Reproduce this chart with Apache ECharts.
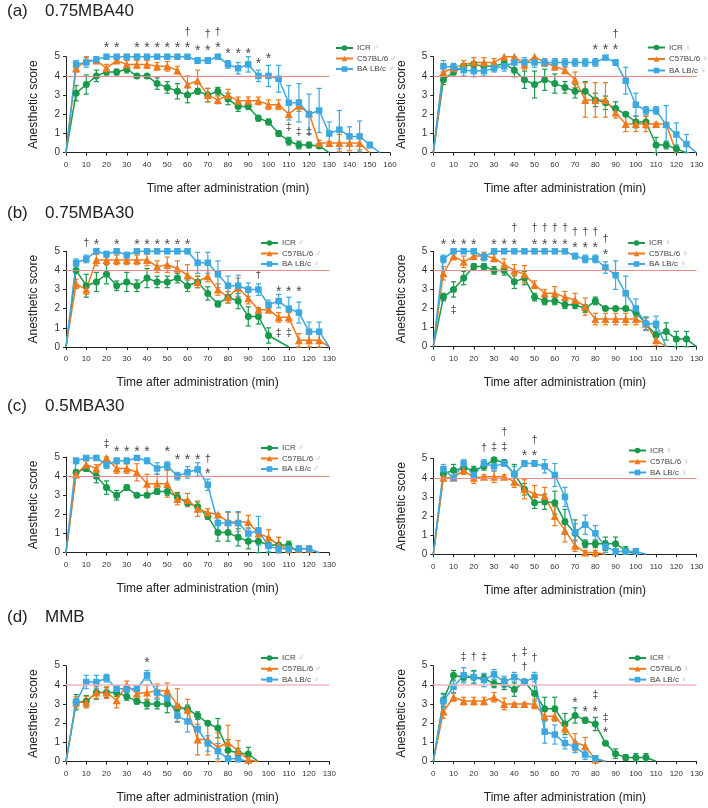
<!DOCTYPE html>
<html><head><meta charset="utf-8">
<script src="https://cdn.jsdelivr.net/npm/echarts@6/dist/echarts.min.js"></script>
<style>html,body{margin:0;padding:0;background:#fff}#c{width:708px;height:808px}</style>
</head><body><div id="c"></div>
<script>
// time step between samples (min); index i -> time i*STEP
const STEP = 5;
const REF_LEVEL = 4;      // red reference line level
const REF_END = 130;      // red reference line end time

// ---------- (a) 0.75MBA40, male ----------
const aL_icr      = [0,3.1,3.55,4.0,4.2,4.2,4.35,4.0,4.0,3.6,3.4,3.2,3.0,3.2,3.0,3.2,2.8,2.4,2.4,1.8,1.6,1.0,0.6,0.4,0.4,0.35,0];
const aL_icr_err  = [0,0.4,0.5,0.3,0.15,0.15,0.2,0.05,0.05,0.3,0.3,0.4,0.4,0.15,0.35,0.2,0.3,0.25,0.15,0.15,0.15,0.15,0.2,0.2,0.15,0.1,0];
const aL_c57      = [0,4.4,4.8,4.8,4.4,4.8,4.6,4.6,4.6,4.5,4.5,4.3,3.55,3.75,3.0,2.75,3.0,2.7,2.7,2.7,2.5,2.5,2.0,2.45,2.05,0.5,0.5,0.5,0.5,0.5,0];
const aL_c57_err  = [0,0.2,0.2,0.15,0.2,0.1,0.2,0.2,0.2,0.2,0.25,0.2,0.45,0.55,0.35,0.2,0.3,0.2,0.2,0.2,0.25,0.25,0.1,0.3,0.1,0.15,0.1,0.45,0.4,0.35,0];
const aL_balb     = [0,4.6,4.7,4.85,5,5,5,5,5,5,5,5,5,4.8,4.8,5,4.6,4.4,4.6,4.0,4.0,3.85,2.6,2.6,2.0,2.2,1.0,1.2,0.85,0.85,0.4,0];
const aL_balb_err = [0,0.2,0.25,0.15,0,0,0,0,0,0,0,0,0,0.15,0.15,0.05,0.2,0.3,0.4,0.3,0.55,0.7,0.9,1.0,1.05,1.15,0.6,1.0,0.5,0.8,0.15,0];
const aL_notes = [[20,5.65,'*'],[25,5.65,'*'],[35,5.65,'*'],[40,5.65,'*'],[45,5.65,'*'],[50,5.65,'*'],[55,5.65,'*'],[60,5.65,'*'],
  [65,5.45,'*'],[70,5.45,'*'],[75,5.65,'*'],[60,6.3,'†'],[70,6.2,'†'],[75,6.3,'†'],[80,5.3,'*'],[85,5.3,'*'],[90,5.3,'*'],
  [95,4.8,'*'],[100,5.05,'*'],[110,1.35,'‡'],[115,1.1,'‡'],[120,1.1,'‡']];

// ---------- (a) 0.75MBA40, female ----------
const aR_icr      = [0,3.8,4.2,4.5,4.6,4.5,4.5,4.65,4.3,3.8,3.55,3.8,3.6,3.4,3.2,3.2,2.75,2.6,2.3,2.0,1.6,1.6,0.4,0.4,0.2,0];
const aR_icr_err  = [0,0.25,0.15,0.15,0.15,0.15,0.15,0.15,0.35,0.45,0.7,0.55,0.5,0.3,0.35,0.5,0.35,0.35,0.35,0.1,0.3,0.3,0.4,0.2,0.2,0];
const aR_c57      = [0,4.2,4.4,4.6,4.7,4.7,4.7,5.0,5.0,4.6,5.0,4.7,4.5,4.3,3.8,2.75,2.75,2.75,2.1,1.5,1.5,1.5,1.5,1.5,0];
const aR_c57_err  = [0,0.3,0.2,0.2,0.25,0.25,0.2,0,0,0.25,0,0.1,0.2,0.15,0.4,0.9,0.9,0.9,0.3,0.4,0.4,0.4,0.05,0.05,0];
const aR_balb     = [0,4.5,4.45,4.3,4.25,4.25,4.4,4.5,4.7,4.7,4.7,4.7,4.7,4.7,4.7,4.7,4.7,4.95,4.7,3.75,2.5,2.2,2.2,1.45,0.95,0.45,0];
const aR_balb_err = [0,0.3,0.2,0.3,0.3,0.25,0.2,0.25,0.3,0.25,0.25,0.2,0.2,0.2,0.2,0.2,0.2,0.05,0.15,0.7,0.6,0.2,0.2,1.0,0.6,0.5,0];
const aR_notes = [[80,5.5,'*'],[85,5.5,'*'],[90,5.5,'*'],[90,6.2,'†']];

// ---------- (b) 0.75MBA30, male ----------
const bL_icr      = [0,4.0,3.2,3.4,3.8,3.2,3.4,3.2,3.6,3.4,3.4,3.6,3.2,3.4,2.8,2.25,2.6,2.4,1.6,1.6,0.6,null,0];
const bL_icr_err  = [0,0.1,0.6,0.5,0.5,0.25,0.5,0.3,0.5,0.3,0.3,0.25,0.3,0.3,0.35,0.15,0.3,0.4,0.5,0.4,0.4,null,0];
const bL_c57      = [0,3.3,3.0,4.55,4.55,4.55,4.55,4.55,4.55,4.2,4.3,4.1,3.75,3.4,3.7,3.0,2.6,3.1,2.55,1.95,1.95,1.55,1.55,0.35,0.35,0.35,0];
const bL_c57_err  = [0,0.25,0.25,0.3,0.25,0.25,0.25,0.25,0.3,0.3,0.4,0.4,0.55,0.3,0.3,0.3,0.3,0.5,0.3,0.1,0.05,0.25,0.25,0.35,0.35,0.35,0];
const bL_balb     = [0,4.4,4.6,5,4.85,5,4.8,5,5,5,5,5,5,4.4,4.4,3.8,3.2,3.2,3.0,3.0,2.2,2.4,2.0,1.8,0.8,0.8,0];
const bL_balb_err = [0,0.2,0.2,0.05,0.15,0,0.15,0,0,0,0,0,0,0.55,0.55,0.7,0.5,0.55,0.35,0.3,0.25,0.35,0.6,0.55,0.5,0.5,0];
const bL_notes = [[10,5.42,'†'],[15,5.5,'*'],[25,5.5,'*'],[35,5.5,'*'],[40,5.5,'*'],[45,5.5,'*'],[50,5.5,'*'],[55,5.5,'*'],[60,5.5,'*'],
  [95,3.76,'†'],[105,3.07,'*'],[110,3.07,'*'],[115,3.07,'*'],[105,0.75,'‡'],[110,0.75,'‡']];

// ---------- (b) 0.75MBA30, female ----------
const bR_icr      = [0,2.6,3.0,3.6,4.2,4.2,4.0,4.0,3.4,3.6,2.6,2.4,2.4,2.2,2.2,2.0,2.4,2.0,2.0,2.0,1.8,1.2,0.6,0.8,0.4,0.4,0];
const bR_icr_err  = [0,0.2,0.4,0.35,0.15,0.15,0.2,0.25,0.35,0.35,0.2,0.2,0.2,0.2,0.2,0.2,0.2,0.05,0.05,0.1,0.2,0.35,0.4,0.45,0.4,0.4,0];
const bR_c57      = [0,3.85,4.75,4.45,4.75,4.75,4.65,4.3,4.0,3.8,3.25,2.8,2.8,2.6,2.45,2.1,1.45,1.45,1.45,1.45,1.45,1.2,0.35,0];
const bR_c57_err  = [0,0.35,0.2,0.3,0.15,0.2,0.2,0.3,0.3,0.45,0.2,0.2,0.35,0.3,0.35,0.45,0.3,0.3,0.3,0.3,0.3,0.3,0.3,0];
const bR_balb     = [0,4.6,5,5,5,4.7,5,5,5,5,5,5,5,5,4.75,4.6,4.6,4.15,3.75,2.8,2.0,1.2,1.2,0];
const bR_balb_err = [0,0.2,0,0,0,0.2,0,0,0,0,0,0,0,0,0.15,0.2,0.2,0.3,0.75,0.9,0.5,0.35,0.4,0];
const bR_notes = [[5,5.5,'*'],[10,5.5,'*'],[15,5.5,'*'],[20,5.5,'*'],[30,5.5,'*'],[35,5.5,'*'],[40,5.5,'*'],[50,5.5,'*'],[55,5.5,'*'],[60,5.5,'*'],[65,5.5,'*'],
  [40,6.2,'†'],[50,6.2,'†'],[55,6.2,'†'],[60,6.2,'†'],[65,6.2,'†'],[70,5.37,'*'],[75,5.37,'*'],[80,5.37,'*'],[70,6.0,'†'],[75,6.0,'†'],[80,6.0,'†'],
  [85,5.0,'*'],[85,5.65,'†'],[10,1.9,'‡']];

// ---------- (c) 0.5MBA30, male ----------
const cL_icr      = [0,4.2,4.4,4.0,3.4,3.0,3.4,3.0,3.0,3.2,3.2,2.9,2.6,2.4,1.9,1.05,1.05,0.8,0.6,0.6,0.4,0.4,0.4,0];
const cL_icr_err  = [0,0.1,0.15,0.35,0.35,0.25,0.15,0.05,0.05,0.15,0.2,0.25,0.15,0.25,0.15,0.45,0.45,0.45,0.4,0.6,0.4,0.4,0.2,0];
const cL_c57      = [0,4.1,4.6,4.4,4.95,4.4,4.4,4.2,3.6,3.6,3.6,2.8,2.75,2.3,2.1,2.0,1.6,1.6,1.6,1.0,0.8,0.4,0.2,0.2,0.2,0];
const cL_c57_err  = [0,0.2,0.2,0.2,0.05,0.25,0.25,0.45,0.5,0.5,0.7,0.3,0.35,0.4,0.2,0.05,0.5,0.5,0.35,0.3,0.4,0.4,0.2,0.15,0.15,0];
const cL_balb     = [0,4.8,4.95,4.95,4.6,4.8,4.8,4.95,4.8,4.4,4.55,4.0,4.2,4.35,3.55,1.55,1.55,1.55,1.0,1.15,0.35,0.2,0.2,0.2,0.2,0];
const cL_balb_err = [0,0.15,0.05,0.05,0.2,0.15,0.15,0.05,0.15,0.3,0.2,0.2,0.3,0.35,0.3,0.4,0.6,0.6,0.3,0.75,0.3,0.2,0.2,0.15,0.15,0];
const cL_notes = [[20,5.7,'‡'],[25,5.45,'*'],[30,5.45,'*'],[35,5.45,'*'],[40,5.45,'*'],[50,5.45,'*'],[55,5.0,'*'],[60,5.0,'*'],[65,5.0,'*'],[70,4.9,'†'],[70,4.3,'*']];

// ---------- (c) 0.5MBA30, female ----------
const cR_icr      = [0,4.2,4.4,4.5,4.4,4.6,4.95,4.8,4.2,3.4,2.7,2.75,2.7,1.7,1.1,0.55,0.55,0.55,0.55,0.2,0];
const cR_icr_err  = [0,0.2,0.3,0.3,0.2,0.2,0.05,0.15,0.5,0.3,0.3,0.4,0.6,0.65,0.7,0.2,0.2,0.35,0.35,0.2,0];
const cR_c57      = [0,4.0,4.0,4.4,4.0,4.05,4.05,4.05,3.8,3.4,3.15,3.05,2.0,1.25,0.45,0.1,0.1,0];
const cR_c57_err  = [0,0.1,0.05,0.2,0.3,0.1,0.3,0.1,0.3,0.5,0.45,0.45,0.5,0.6,0.3,0.1,0.1,0];
const cR_balb     = [0,4.45,4.0,4.75,4.15,4.75,4.6,4.75,4.2,4.75,4.75,4.6,4.15,3.0,1.15,1.55,1.1,0.4,0.15,0.15,0.15,0];
const cR_balb_err = [0,0.25,0.05,0.2,0.3,0.2,0.25,0.15,0.4,0.15,0.15,0.35,0.6,0.5,0.45,0.5,0.4,0.3,0.15,0.15,0.15,0];
const cR_notes = [[25,5.55,'†'],[30,5.6,'‡'],[35,6.4,'†'],[35,5.6,'‡'],[45,5.3,'*'],[50,5.3,'*'],[50,6.0,'†']];

// ---------- (d) MMB, male ----------
const dL_icr      = [0,3.1,3.15,3.6,3.6,3.6,3.4,3.15,3.0,3.0,3.0,2.8,2.75,2.4,2.0,1.75,0.6,0.45,0.4,0];
const dL_icr_err  = [0,0.4,0.3,0.35,0.25,0.2,0.2,0.15,0.25,0.25,0.45,0.2,0.2,0.2,0.1,0.5,0.55,0.25,0.35,0];
const dL_c57      = [0,3.1,3.1,3.6,3.6,3.2,4.0,3.55,3.6,3.7,3.7,2.95,2.7,1.15,1.15,0.75,1.0,0.55,0.1,0];
const dL_c57_err  = [0,0.3,0.3,0.3,0.3,0.4,0.2,0.35,0.4,0.35,0.4,0.85,0.55,0.8,0.8,0.75,0.9,0.55,0.1,0];
const dL_balb     = [0,3.1,4.15,4.15,4.35,3.8,3.8,3.8,4.5,3.6,3.3,2.4,2.1,1.7,0.95,0.55,0.15,0.15,0];
const dL_balb_err = [0,0.2,0.35,0.35,0.2,0.15,0.2,0.15,0.25,0.35,0.4,0.35,0.55,0.6,0.4,0.4,0.15,0.15,0];
const dL_notes = [[40,5.3,'*']];

// ---------- (d) MMB, female ----------
const dR_icr      = [0,3.2,4.5,4.4,4.4,4.35,4.05,4.05,3.75,4.15,3.55,2.75,2.75,1.95,2.4,2.15,1.95,0.95,0.4,0.2,0.2,0.2,0];
const dR_icr_err  = [0,0.35,0.25,0.2,0.35,0.2,0.2,0.3,0.35,0.1,0.4,0.6,0.6,0.55,0.4,0.15,0.35,0.05,0.25,0.15,0.2,0.2,0];
const dR_c57      = [0,2.6,3.35,3.15,3.15,3.15,3.35,3.0,3.0,3.0,3.0,2.35,2.35,1.75,1.0,0.8,0.1,0];
const dR_c57_err  = [0,0.35,0.2,0.2,0.2,0.2,0.25,0.3,0.05,0.05,0.25,0.25,0.25,0.25,0.45,0.45,0.1,0];
const dR_balb     = [0,3.15,3.9,4.5,4.4,4.25,4.55,4.15,4.4,4.15,4.4,1.55,1.4,0.95,0.75,0.35,0.15,0];
const dR_balb_err = [0,0.35,0.3,0.4,0.3,0.35,0.25,0.3,0.25,0.15,0.25,0.6,0.5,0.3,0.3,0.25,0.15,0];
const dR_notes = [[15,5.45,'‡'],[20,5.45,'†'],[25,5.45,'‡'],[40,5.4,'†'],[45,5.7,'‡'],[45,4.95,'†'],[50,5.4,'†'],
  [70,3.2,'*'],[75,2.75,'*'],[80,3.45,'‡'],[80,2.75,'*'],[85,2.25,'‡'],[85,1.65,'*']];

const strainNames = {icr:'ICR', c57:'C57BL/6', balb:'BA LB/c'};
const panelTitles = [['(a)','0.75MBA40'],['(b)','0.75MBA30'],['(c)','0.5MBA30'],['(d)','MMB']];
const xTitle = 'Time after administration (min)';
const yTitle = 'Anesthetic score';

// ---------- layout / styling ----------
const FONT = 'Liberation Sans, Arial, sans-serif';
const COLORS = {icr:'#19994b', c57:'#ef7a1d', balb:'#3ca8df'};
const SYM = {icr:['circle',7], c57:['triangle',8], balb:['rect',6.5]};
const LX = 66, RX = 433.3, W = 263.3;
const panels = [
  {g:{left:LX,top:56.7,width:324,height:96}, xMax:160, sex:'♂', lg:{left:335,top:44,gap:2.5}, d:{icr:[aL_icr,aL_icr_err],c57:[aL_c57,aL_c57_err],balb:[aL_balb,aL_balb_err]}, notes:aL_notes, pink:false},
  {g:{left:RX,top:56.7,width:W,height:96}, xMax:130, sex:'♀', lg:{left:647,top:43.5,gap:3.5}, d:{icr:[aR_icr,aR_icr_err],c57:[aR_c57,aR_c57_err],balb:[aR_balb,aR_balb_err]}, notes:aR_notes, pink:false},
  {g:{left:LX,top:251.3,width:W,height:95.7}, xMax:130, sex:'♂', lg:{left:260,top:239,gap:2.5}, d:{icr:[bL_icr,bL_icr_err],c57:[bL_c57,bL_c57_err],balb:[bL_balb,bL_balb_err]}, notes:bL_notes, pink:false},
  {g:{left:RX,top:251.3,width:W,height:95.4}, xMax:130, sex:'♀', lg:{left:627,top:239,gap:2.5}, d:{icr:[bR_icr,bR_icr_err],c57:[bR_c57,bR_c57_err],balb:[bR_balb,bR_balb_err]}, notes:bR_notes, pink:false},
  {g:{left:LX,top:457,width:W,height:95.7}, xMax:130, sex:'♂', lg:{left:260,top:444,gap:2.5}, d:{icr:[cL_icr,cL_icr_err],c57:[cL_c57,cL_c57_err],balb:[cL_balb,cL_balb_err]}, notes:cL_notes, pink:false},
  {g:{left:RX,top:458.7,width:W,height:95.6}, xMax:130, sex:'♀', lg:{left:628,top:446.5,gap:3}, d:{icr:[cR_icr,cR_icr_err],c57:[cR_c57,cR_c57_err],balb:[cR_balb,cR_balb_err]}, notes:cR_notes, pink:false},
  {g:{left:LX,top:665.7,width:W,height:96}, xMax:130, sex:'♂', lg:{left:260,top:654,gap:2.8}, d:{icr:[dL_icr,dL_icr_err],c57:[dL_c57,dL_c57_err],balb:[dL_balb,dL_balb_err]}, notes:dL_notes, pink:true},
  {g:{left:RX,top:665.7,width:W,height:95.6}, xMax:130, sex:'♀', lg:{left:628,top:654,gap:2.8}, d:{icr:[dR_icr,dR_icr_err],c57:[dR_c57,dR_c57_err],balb:[dR_balb,dR_balb_err]}, notes:dR_notes, pink:true}
];
const titleTops = [3, 205, 398, 609];

function errRender(color) {
  return function (params, api) {
    const x = api.value(0), y = api.value(1), e = api.value(2);
    if (!e) return null;
    const t = api.coord([x, y + e]);
    const b = api.coord([x, Math.max(0, y - e)]);
    const c = 2.6;
    const st = {stroke: color, lineWidth: 1.2};
    return {type: 'group', children: [
      {type: 'line', shape: {x1: t[0], y1: t[1], x2: b[0], y2: b[1]}, style: st},
      {type: 'line', shape: {x1: t[0] - c, y1: t[1], x2: t[0] + c, y2: t[1]}, style: st},
      {type: 'line', shape: {x1: b[0] - c, y1: b[1], x2: b[0] + c, y2: b[1]}, style: st}
    ]};
  };
}

const grid = [], xAxis = [], yAxis = [], series = [], legend = [], title = [];
panelTitles.forEach((t, i) => {
  title.push({text: t[0], left: 7, top: titleTops[i], padding: 0, textStyle: {fontFamily: FONT, fontSize: 17, fontWeight: 'normal', color: '#222'}});
  title.push({text: t[1], left: 45, top: titleTops[i], padding: 0, textStyle: {fontFamily: FONT, fontSize: 17, fontWeight: 'normal', color: '#222'}});
});

panels.forEach((p, i) => {
  grid.push(Object.assign({containLabel: false, outerBoundsMode: 'none'}, p.g));
  xAxis.push({
    gridIndex: i, type: 'value', min: 0, max: p.xMax, interval: 10,
    name: xTitle, nameLocation: 'middle', nameGap: 30,
    nameTextStyle: {fontFamily: FONT, fontSize: 12, color: '#222'},
    axisLine: {show: true, onZero: false, lineStyle: {color: '#222', width: 1}},
    axisTick: {show: true, length: 3, inside: false, lineStyle: {color: '#222'}},
    axisLabel: {fontFamily: FONT, fontSize: 8, color: '#333', margin: 8},
    splitLine: {show: false}
  });
  yAxis.push({
    gridIndex: i, type: 'value', min: 0, max: 5, interval: 1,
    name: yTitle, nameLocation: 'middle', nameGap: 26, nameRotate: 90,
    nameTextStyle: {fontFamily: FONT, fontSize: 12, color: '#222'},
    axisLine: {show: true, onZero: false, lineStyle: {color: '#222', width: 1}},
    axisTick: {show: true, length: 3, inside: false, lineStyle: {color: '#222'}},
    axisLabel: {fontFamily: FONT, fontSize: 10, color: '#333', margin: 6},
    splitLine: {show: false}
  });
  const names = [];
  ['icr', 'c57', 'balb'].forEach(k => {
    const [vals, errs] = p.d[k];
    const name = strainNames[k] + ' ' + p.sex;
    names.push(name);
    const pts = [], ebs = [];
    vals.forEach((v, j) => {
      if (v == null) return;
      pts.push([j * STEP, v]);
      ebs.push([j * STEP, v, errs[j]]);
    });
    series.push({
      type: 'custom', name: name + ' SEM', coordinateSystem: 'cartesian2d',
      xAxisIndex: i, yAxisIndex: i, data: ebs, renderItem: errRender(COLORS[k]),
      silent: true, z: 2, clip: false
    });
    const s = {
      type: 'line', name: name, xAxisIndex: i, yAxisIndex: i, data: pts,
      symbol: SYM[k][0], symbolSize: (v) => (v[1] === 0 ? 0 : SYM[k][1]),
      showAllSymbol: true, clip: false, silent: true, z: 3,
      lineStyle: {color: COLORS[k], width: 1.5},
      itemStyle: {color: COLORS[k], borderWidth: 0}
    };
    if (k === 'icr') {
      s.markLine = {
        silent: true, symbol: 'none', label: {show: false},
        lineStyle: {color: p.pink ? '#f4b3bf' : '#ec8a8a', width: p.pink ? 1.5 : 1, type: 'solid'},
        data: [[{coord: [0, REF_LEVEL]}, {coord: [REF_END, REF_LEVEL]}]]
      };
    }
    series.push(s);
  });
  series.push({
    type: 'custom', name: 'notes' + i, coordinateSystem: 'cartesian2d',
    xAxisIndex: i, yAxisIndex: i, data: p.notes, silent: true, z: 4, clip: false,
    renderItem: function (params, api) {
      const pos = api.coord([api.value(0), api.value(1)]);
      const sym = p.notes[params.dataIndex][2];
      const star = sym === '*';
      return {type: 'text', x: pos[0], y: pos[1] + (star ? 3.5 : 0),
        style: {text: sym, fill: '#4a4a4a', font: (star ? '14px ' : '11px ') + FONT, align: 'center', verticalAlign: 'middle'}};
    }
  });
  legend.push({
    data: names, orient: 'vertical', left: p.lg.left, top: p.lg.top, padding: 0,
    itemWidth: 17, itemHeight: 7, itemGap: p.lg.gap, selectedMode: false,
    formatter: (n) => { const k = n.lastIndexOf(' '); return '{t|' + n.slice(0, k) + '} {s|' + n.slice(k + 1) + '}'; },
    textStyle: {fontFamily: FONT, fontSize: 8, color: '#444', padding: [0, 0, 0, -1],
      rich: {t: {fontFamily: FONT, fontSize: 8, color: '#444'}, s: {fontSize: 8, color: '#aaa'}}}
  });
});

const chart = echarts.init(document.getElementById('c'), null, {renderer: 'canvas'});
chart.setOption({animation: false, backgroundColor: '#fff', title, grid, xAxis, yAxis, legend, series});
</script></body></html>
